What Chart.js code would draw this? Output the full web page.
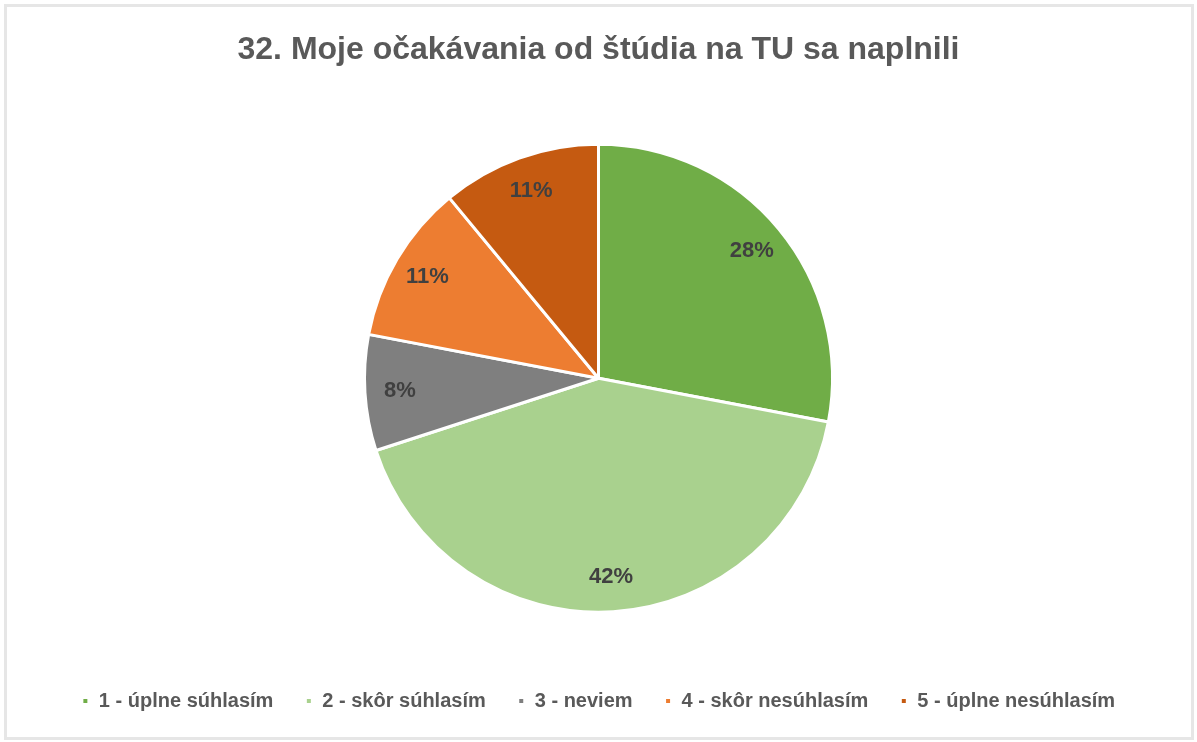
<!DOCTYPE html>
<html>
<head>
<meta charset="utf-8">
<script src="https://cdn.jsdelivr.net/npm/chart.js@4.4.1/dist/chart.umd.min.js"></script>
<style>
 body{margin:0;background:#fff;}
 #frame{position:absolute;left:4px;top:4px;width:1190px;height:736px;border:3px solid #e6e6e6;box-sizing:border-box;}
 #wrap{position:absolute;left:0;top:0;width:1197px;height:742px;}
</style>
</head>
<body>
<div id="frame"></div>
<div id="wrap"><canvas id="pieChart"></canvas></div>
<script>
const categories = ["1 - úplne súhlasím", "2 - skôr súhlasím", "3 - neviem", "4 - skôr nesúhlasím", "5 - úplne nesúhlasím"];
const shares = [28, 42, 8, 11, 11];
const sliceColors = ["#70ad47", "#a9d18e", "#7f7f7f", "#ed7d31", "#c55a11"];

// percent labels inside each slice
const sliceLabels = {
 id: 'sliceLabels',
 afterDatasetsDraw(chart){
  const ctx = chart.ctx;
  const meta = chart.getDatasetMeta(0);
  ctx.save();
  ctx.font = "bold 22px 'Liberation Sans', Arial, sans-serif";
  ctx.fillStyle = "#404040";
  ctx.textAlign = "center";
  ctx.textBaseline = "middle";
  meta.data.forEach((arc, i) => {
   const mid = (arc.startAngle + arc.endAngle) / 2;
   const r = arc.outerRadius * 0.85;
   ctx.fillText(shares[i] + "%", arc.x + Math.cos(mid) * r, arc.y + Math.sin(mid) * r);
  });
  ctx.restore();
 }
};

const ctx = document.getElementById('pieChart').getContext('2d');
new Chart(ctx, {
 type: 'pie',
 data: {
  labels: categories,
  datasets: [{
   data: shares,
   backgroundColor: sliceColors,
   borderColor: '#ffffff',
   borderWidth: 3,
   radius: 234
  }]
 },
 options: {
  responsive: true,
  maintainAspectRatio: false,
  animation: false,
  layout: { padding: { top: 0, bottom: 21 } },
  plugins: {
   title: {
    display: true,
    text: '32. Moje očakávania od štúdia na TU sa naplnili',
    color: '#595959',
    font: { family: "'Liberation Sans', Arial, sans-serif", size: 32, weight: 'bold' },
    padding: { top: 31, bottom: 28 }
   },
   legend: {
    position: 'bottom',
    labels: {
     color: '#595959',
     font: { family: "'Liberation Sans', Arial, sans-serif", size: 20, weight: 'bold' },
     boxWidth: 7,
     boxHeight: 7,
     padding: 32
    }
   },
   tooltip: { enabled: false }
  }
 },
 plugins: [sliceLabels]
});
</script>
</body>
</html>
